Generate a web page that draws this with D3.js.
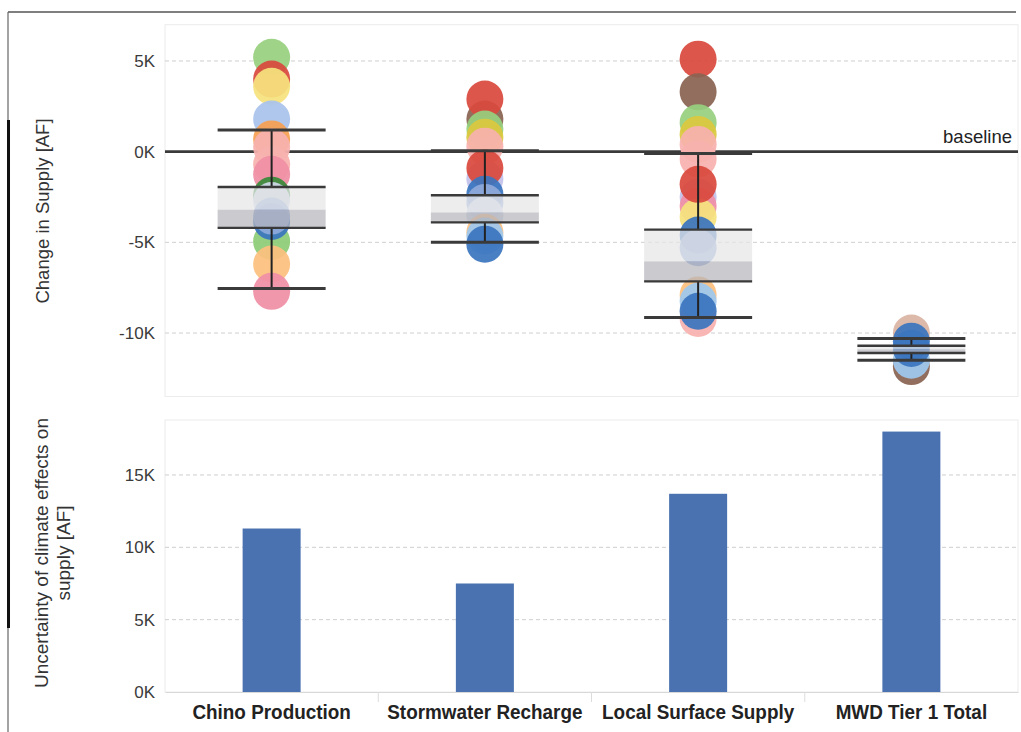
<!DOCTYPE html>
<html>
<head>
<meta charset="utf-8">
<script src="https://cdn.jsdelivr.net/npm/d3@7"></script>
<style>
  html, body { margin: 0; padding: 0; background: #ffffff; }
  svg { display: block; }
</style>
</head>
<body>
<svg id="chart" width="1021" height="732"></svg>
<script>
// ---------------- DATA ----------------
const categories = ["Chino Production", "Stormwater Recharge", "Local Surface Supply", "MWD Tier 1 Total"];

// Uncertainty of climate effects on supply [AF] (bottom panel bars)
const uncertainty = [11300, 7500, 13700, 18000];

// Box summary of change in supply [AF] per category
const whiskerHigh = [1200, 50, -100, -10300];
const boxUpper    = [-1950, -2400, -4300, -10700];
const boxMedian   = [-3200, -3350, -6050, -10900];
const boxLower    = [-4200, -3900, -7150, -11100];
const whiskerLow  = [-7550, -5000, -9150, -11500];

// Climate-scenario results (change in supply [AF]) per category, in drawing order
const chinoValues  = [5200, 4000, 3600, 1800, 700, 250, -700, -1250, -2400, -2700, -4950, -3850, -3550, -6200, -7700];
const chinoColors  = ["lgreen","red","yellow","lblue","orange","lpink","lpink","rose","dgreen","pale","green","blue","mblue","lorange","rose"];

const stormValues  = [1800, 2900, 1250, 800, 300, -1500, -900, -2350, -2800, -3500, -4450, -4650, -5100];
const stormColors  = ["brown","red","lgreen","gold","lpink","lavender","red","blue","mblue","pale","lorange","sky","blue"];

const localValues  = [5100, 3300, 1600, 950, 400, -400, -2500, -3000, -3600, -1800, -4600, -5300, -7900, -9200, -8250, -8800];
const localColors  = ["red","brown","lgreen","gold","lpink","lpink","lavender","rose","yellow","red","blue","mblue","lorange","lpink","sky","blue"];

const mwdValues    = [-10000, -11850, -11500, -10450, -10850];
const mwdColors    = ["tan","brown","sky","blue","blue"];

const topTicks    = [5000, 0, -5000, -10000];
const bottomTicks = [0, 5000, 10000, 15000];
const fmtK = v => (v / 1000) + "K";

// ---------------- STYLE ----------------
const palette = {
  lgreen: "#97d07f", red: "#d9493d", yellow: "#f5e27e", lblue: "#a9c3ec", orange: "#f6a052",
  lpink: "#f8b1ae", rose: "#f08fa6", dgreen: "#3a8a3a", pale: "#cfd9ea", green: "#8ccc76",
  blue: "#3b75be", mblue: "#8fa9da", lorange: "#fdc07e", brown: "#8a6352", gold: "#dcc83e",
  lavender: "#c2c1ea", sky: "#9fc8ee", tan: "#d9b4a2"
};
const fontFamily = "'Liberation Sans', Arial, Helvetica, sans-serif";

(function draw() {
const svg = d3.select("#chart");
const plotLeft = 165, plotRight = 1018;

// outer scan frame
svg.append("line").attr("x1", 8).attr("x2", 1016).attr("y1", 12).attr("y2", 12)
  .attr("stroke", "#555").attr("stroke-width", 1.5);
svg.append("line").attr("x1", 8).attr("x2", 8).attr("y1", 12).attr("y2", 732)
  .attr("stroke", "#666").attr("stroke-width", 1.2);
svg.append("line").attr("x1", 8.5).attr("x2", 8.5).attr("y1", 120).attr("y2", 628)
  .attr("stroke", "#111").attr("stroke-width", 3);

const x = d3.scaleBand().domain(categories).range([plotLeft, plotRight]).paddingInner(0).paddingOuter(0);
const xBar = d3.scaleBand().domain(categories).range([plotLeft, plotRight]).paddingInner(0.728).paddingOuter(0.364);

// ---------------- TOP PANEL ----------------
const yTop = d3.scaleLinear().domain([-13500, 7000]).range([396.5, 24.7]);
const topG = svg.append("g");

topG.append("rect").attr("x", plotLeft).attr("y", yTop(7000)).attr("width", plotRight - plotLeft)
  .attr("height", yTop(-13500) - yTop(7000)).attr("fill", "none").attr("stroke", "#ececec");

topG.selectAll("line.grid").data(topTicks.filter(t => t !== 0)).join("line")
  .attr("class", "grid").attr("x1", plotLeft).attr("x2", plotRight)
  .attr("y1", d => yTop(d)).attr("y2", d => yTop(d))
  .attr("stroke", "#cfcfcf").attr("stroke-width", 1).attr("stroke-dasharray", "4,3");

const yAxisTop = d3.axisLeft(yTop).tickValues(topTicks).tickFormat(fmtK).tickSize(0).tickPadding(10);
const gAxT = topG.append("g").attr("transform", `translate(${plotLeft},0)`).call(yAxisTop);
gAxT.select(".domain").remove();
gAxT.selectAll("text").attr("font-family", fontFamily).attr("font-size", 17).attr("fill", "#3a3a3a");

// baseline
topG.append("line").attr("x1", plotLeft).attr("x2", plotRight)
  .attr("y1", yTop(0)).attr("y2", yTop(0)).attr("stroke", "#3a3a3a").attr("stroke-width", 2.6);
topG.append("text").attr("x", 1012).attr("y", yTop(0) - 9).attr("text-anchor", "end")
  .attr("font-family", fontFamily).attr("font-size", 18.5).attr("fill", "#222").text("baseline");

// scenario circles
const scen = [
  [chinoValues, chinoColors], [stormValues, stormColors],
  [localValues, localColors], [mwdValues, mwdColors]
];
scen.forEach(([vals, cols], i) => {
  const cx = x(categories[i]) + x.bandwidth() / 2;
  topG.append("g").selectAll("circle").data(vals.map((v, j) => ({ v, c: cols[j] }))).join("circle")
    .attr("cx", cx).attr("cy", d => yTop(d.v)).attr("r", 18.5)
    .attr("fill", d => palette[d.c]).attr("fill-opacity", 0.93);
});

// boxes and whiskers
const boxW = 108;
categories.forEach((c, i) => {
  const cx = x(c) + x.bandwidth() / 2;
  const g = topG.append("g");
  g.append("rect").attr("x", cx - boxW / 2).attr("width", boxW)
    .attr("y", yTop(boxUpper[i])).attr("height", yTop(boxMedian[i]) - yTop(boxUpper[i]))
    .attr("fill", "#e6e6e8").attr("fill-opacity", 0.72);
  g.append("rect").attr("x", cx - boxW / 2).attr("width", boxW)
    .attr("y", yTop(boxMedian[i])).attr("height", yTop(boxLower[i]) - yTop(boxMedian[i]))
    .attr("fill", "#b3b3bb").attr("fill-opacity", 0.7);
  g.append("line").attr("x1", cx).attr("x2", cx).attr("y1", yTop(whiskerHigh[i])).attr("y2", yTop(boxUpper[i]))
    .attr("stroke", "#222").attr("stroke-width", 2);
  g.append("line").attr("x1", cx).attr("x2", cx).attr("y1", yTop(boxLower[i])).attr("y2", yTop(whiskerLow[i]))
    .attr("stroke", "#222").attr("stroke-width", 2);
  [[whiskerHigh[i], 3], [boxUpper[i], 2.4], [boxLower[i], 2.4], [whiskerLow[i], 3]].forEach(([v, w]) => {
    g.append("line").attr("x1", cx - boxW / 2).attr("x2", cx + boxW / 2)
      .attr("y1", yTop(v)).attr("y2", yTop(v)).attr("stroke", "#3a3a3a").attr("stroke-width", w);
  });
});

svg.append("text").attr("transform", "translate(49,211) rotate(-90)").attr("text-anchor", "middle")
  .attr("font-family", fontFamily).attr("font-size", 18.5).attr("fill", "#333")
  .text("Change in Supply [AF]");

// ---------------- BOTTOM PANEL ----------------
const yBot = d3.scaleLinear().domain([0, 18800]).range([692, 420]);
const bot = svg.append("g");

bot.append("rect").attr("x", plotLeft).attr("y", yBot(18800)).attr("width", plotRight - plotLeft)
  .attr("height", yBot(0) - yBot(18800)).attr("fill", "none").attr("stroke", "#ececec");

bot.selectAll("line.grid").data(bottomTicks.filter(t => t !== 0)).join("line")
  .attr("class", "grid").attr("x1", plotLeft).attr("x2", plotRight)
  .attr("y1", d => yBot(d)).attr("y2", d => yBot(d))
  .attr("stroke", "#cfcfcf").attr("stroke-width", 1).attr("stroke-dasharray", "4,3");

const yAxisBot = d3.axisLeft(yBot).tickValues(bottomTicks).tickFormat(fmtK).tickSize(0).tickPadding(10);
const gAxB = bot.append("g").attr("transform", `translate(${plotLeft},0)`).call(yAxisBot);
gAxB.select(".domain").remove();
gAxB.selectAll("text").attr("font-family", fontFamily).attr("font-size", 17).attr("fill", "#3a3a3a");

bot.selectAll("rect.bar").data(categories).join("rect").attr("class", "bar")
  .attr("x", d => xBar(d)).attr("width", xBar.bandwidth())
  .attr("y", (d, i) => yBot(uncertainty[i])).attr("height", (d, i) => yBot(0) - yBot(uncertainty[i]))
  .attr("fill", "#4a72b0");

const xAxis = d3.axisBottom(x).tickSize(0).tickPadding(12);
const gX = bot.append("g").attr("transform", `translate(0,${yBot(0)})`).call(xAxis);
gX.select(".domain").attr("stroke", "#d8d8d8");
gX.selectAll("text").attr("font-family", fontFamily).attr("font-size", 21).attr("font-weight", "bold")
  .attr("fill", "#222").attr("transform", "scale(0.9,1)");
bot.selectAll("line.sep").data(categories.slice(1)).join("line").attr("class", "sep")
  .attr("x1", d => x(d)).attr("x2", d => x(d)).attr("y1", yBot(0)).attr("y2", yBot(0) + 10)
  .attr("stroke", "#dcdcdc");

const tB = svg.append("text").attr("transform", "translate(0,553) rotate(-90)").attr("text-anchor", "middle")
  .attr("font-family", fontFamily).attr("font-size", 19).attr("fill", "#333");
tB.append("tspan").attr("x", 0).attr("y", 48).text("Uncertainty of climate effects on");
tB.append("tspan").attr("x", 0).attr("y", 70).text("supply [AF]");
})();
</script>
</body>
</html>
